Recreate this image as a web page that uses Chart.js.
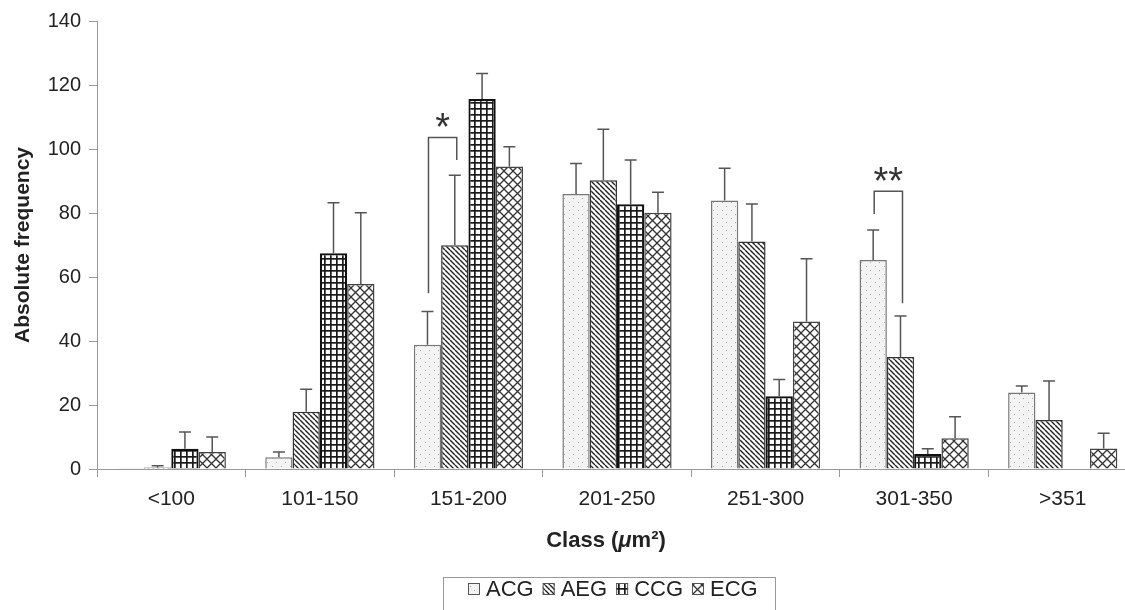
<!DOCTYPE html>
<html>
<head>
<meta charset="utf-8">
<title>Absolute frequency per class</title>
<script src="https://cdn.jsdelivr.net/npm/chart.js@4.4.1/dist/chart.umd.min.js"></script>
<style>
    html, body { margin: 0; padding: 0; background: #fff; overflow: hidden; }
    #wrap { width: 1125px; height: 610px; overflow: hidden; }
</style>
</head>
<body>
<div id="wrap"><canvas id="myChart" width="1140" height="610"></canvas></div>
<script>
// data
const classes = ["<100", "101-150", "151-200", "201-250", "251-300", "301-350", ">351"];
const groups = ["ACG", "AEG", "CCG", "ECG"];

const acg = [0.2, 3.7, 38.8, 85.9, 83.9, 65.3, 23.9];
const aeg = [0.5, 17.9, 69.9, 90.2, 71.1, 35.0, 15.3];
const ccg = [6.3, 67.4, 115.6, 82.7, 22.7, 4.7, 0];
const ecg = [5.3, 57.8, 94.5, 80.1, 46.1, 9.6, 6.4];

// upper error (SD), only drawn upwards
const acgErr = [0, 1.6, 10.4, 9.6, 10.1, 9.4, 2.0];
const aegErr = [0.5, 7.0, 21.9, 16.0, 11.7, 12.8, 12.2];
const ccgErr = [5.3, 15.8, 8.0, 13.9, 5.3, 1.6, 0];
const ecgErr = [4.7, 22.3, 6.2, 6.4, 19.6, 6.7, 4.8];

const yTicks = [0, 20, 40, 60, 80, 100, 120, 140];

// significance brackets: class index, between two groups, heights in data units
const brackets = [
    { cat: 2, from: 0, to: 1, leftEnd: 54.9, top: 103.6, rightEnd: 96.6, mark: "*" },
    { cat: 5, from: 0, to: 1, leftEnd: 79.7, top: 86.8, rightEnd: 51.8, mark: "**" }
];

const FONT = "'Liberation Sans', Arial, sans-serif";
const TXT = "#222";

// fill patterns like the print version
function makePattern(kind) {
    const c = document.createElement("canvas");
    const g = c.getContext("2d");
    if (kind === "dots") {
        c.width = 9; c.height = 8;
        g.fillStyle = "#f3f3f3"; g.fillRect(0, 0, 9, 8);
        g.fillStyle = "#a8a8a8";
        g.fillRect(2, 2, 1, 1);
        g.fillRect(6, 6, 1, 1);
    } else if (kind === "diag") {
        c.width = 5; c.height = 5;
        g.fillStyle = "#fff"; g.fillRect(0, 0, 5, 5);
        g.strokeStyle = "#222"; g.lineWidth = 1.4;
        g.beginPath();
        for (let k = -5; k <= 5; k += 5) {
            g.moveTo(k, 0); g.lineTo(k + 5, 5);
        }
        g.stroke();
    } else if (kind === "grid") {
        c.width = 6; c.height = 6;
        g.fillStyle = "#fff"; g.fillRect(0, 0, 6, 6);
        g.fillStyle = "#1a1a1a";
        g.fillRect(0, 0, 6, 1.7);
        g.fillRect(0, 0, 1.7, 6);
    } else {
        c.width = 9; c.height = 9;
        g.fillStyle = "#fff"; g.fillRect(0, 0, 9, 9);
        g.strokeStyle = "#333"; g.lineWidth = 1.3;
        g.beginPath();
        g.moveTo(0, 0); g.lineTo(9, 9);
        g.moveTo(9, 0); g.lineTo(0, 9);
        g.stroke();
    }
    return g.createPattern(c, "repeat");
}

const ctx0 = document.getElementById("myChart").getContext("2d");
const fills = [makePattern("dots"), makePattern("diag"), makePattern("grid"), makePattern("cross")];
const borders = ["#777", "#333", "#111", "#444"];
const borderW = [1.5, 1.5, 2.2, 1.5];
const values = [acg, aeg, ccg, ecg];
const errs = [acgErr, aegErr, ccgErr, ecgErr];

const errorBars = {
    id: "errorBars",
    afterDatasetsDraw(chart) {
        const ctx = chart.ctx, y = chart.scales.y;
        ctx.save();
        ctx.strokeStyle = "#555";
        ctx.lineWidth = 1.5;
        chart.data.datasets.forEach((ds, i) => {
            chart.getDatasetMeta(i).data.forEach((bar, j) => {
                const e = errs[i][j];
                if (!e) return;
                const top = y.getPixelForValue(values[i][j] + e);
                ctx.beginPath();
                ctx.moveTo(bar.x, bar.y);
                ctx.lineTo(bar.x, top);
                ctx.moveTo(bar.x - 6, top);
                ctx.lineTo(bar.x + 6, top);
                ctx.stroke();
            });
        });
        // brackets with stars
        brackets.forEach(b => {
            const x1 = chart.getDatasetMeta(b.from).data[b.cat].x + 1;
            const x2 = chart.getDatasetMeta(b.to).data[b.cat].x + 2;
            const yt = y.getPixelForValue(b.top);
            ctx.beginPath();
            ctx.moveTo(x1, y.getPixelForValue(b.leftEnd));
            ctx.lineTo(x1, yt);
            ctx.lineTo(x2, yt);
            ctx.lineTo(x2, y.getPixelForValue(b.rightEnd));
            ctx.stroke();
            ctx.fillStyle = "#333";
            ctx.font = "38px " + FONT;
            ctx.textAlign = "center";
            ctx.textBaseline = "alphabetic";
            ctx.fillText(b.mark, (x1 + x2) / 2, yt + 3);
        });
        ctx.restore();
    },
    afterDraw(chart) {
        const ctx = chart.ctx;
        ctx.save();
        // x title with italic mu
        const parts = [["Class (", "bold 22px "], ["\u03bc", "italic bold 22px "], ["m\u00b2)", "bold 22px "]];
        let w = 0;
        parts.forEach(p => { ctx.font = p[1] + FONT; w += ctx.measureText(p[0]).width; });
        let x = 606 - w / 2;
        ctx.fillStyle = TXT;
        ctx.textBaseline = "middle";
        ctx.textAlign = "left";
        parts.forEach(p => {
            ctx.font = p[1] + FONT;
            ctx.fillText(p[0], x, 541);
            x += ctx.measureText(p[0]).width;
        });
        // legend in a frame
        ctx.strokeStyle = "#999";
        ctx.lineWidth = 1;
        ctx.strokeRect(443.5, 577.5, 332, 40);
        ctx.font = "22px " + FONT;
        let lx = 468;
        chart.data.datasets.forEach((ds, i) => {
            ctx.fillStyle = ds.backgroundColor;
            ctx.fillRect(lx, 583, 12, 12);
            ctx.strokeStyle = "#555";
            ctx.strokeRect(lx + 0.5, 583.5, 11, 11);
            lx += 18;
            ctx.fillStyle = TXT;
            ctx.fillText(ds.label, lx, 590);
            lx += ctx.measureText(ds.label).width + 9;
        });
        ctx.restore();
    }
};

const chart = new Chart(ctx0, {
    type: "bar",
    data: {
        labels: classes,
        datasets: groups.map((name, i) => ({
            label: name,
            data: values[i],
            backgroundColor: fills[i],
            borderColor: borders[i],
            borderWidth: borderW[i],
            borderSkipped: "bottom",
            categoryPercentage: 0.735,
            barPercentage: 1.0
        }))
    },
    options: {
        responsive: false,
        animation: false,
        events: [],
        layout: { padding: { left: 0, right: 3, top: 21, bottom: 0 } },
        plugins: {
            legend: { display: false },
            tooltip: { enabled: false }
        },
        scales: {
            x: {
                afterFit: s => { s.height = 141; },
                grid: { offset: true, drawOnChartArea: false, tickLength: 8, color: "#999" },
                border: { color: "#999", width: 1 },
                ticks: { color: TXT, font: { family: FONT, size: 21 }, padding: 10, maxRotation: 0 }
            },
            y: {
                min: 0,
                max: 140,
                afterFit: s => { s.width = 97; },
                afterBuildTicks: s => { s.ticks = yTicks.map(v => ({ value: v })); },
                grid: { drawOnChartArea: false, tickLength: 8, color: "#999" },
                border: { color: "#999", width: 1 },
                ticks: { color: TXT, font: { family: FONT, size: 20 }, padding: 8 },
                title: {
                    display: true,
                    text: "Absolute frequency",
                    color: TXT,
                    font: { family: FONT, size: 21, weight: "bold" },
                    padding: { top: 11, bottom: 0 }
                }
            }
        }
    },
    plugins: [errorBars]
});
</script>
</body>
</html>
